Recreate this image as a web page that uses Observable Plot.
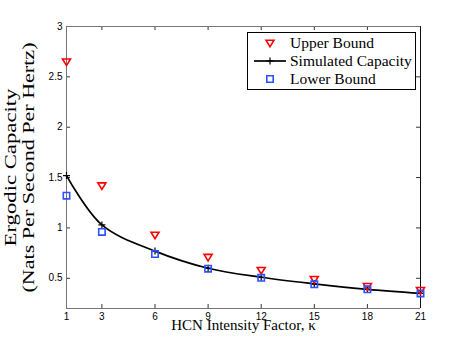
<!DOCTYPE html>
<html><head><meta charset="utf-8">
<script src="https://cdn.jsdelivr.net/npm/d3@7"></script>
<script src="https://cdn.jsdelivr.net/npm/@observablehq/plot@0.6"></script>
<style>
body{margin:0;background:#fff}
#wrap{position:relative;width:464px;height:347px}
#legend{position:absolute;left:247px;top:32px}
</style>
</head><body><div id="wrap"></div>
<script>
const kappa = [1, 3, 6, 9, 12, 15, 18, 21];
const upperBound = [2.65, 1.42, 0.93, 0.71, 0.58, 0.49, 0.42, 0.38];
const simulated = [1.52, 1.03, 0.77, 0.60, 0.51, 0.445, 0.39, 0.35];
const lowerBound = [1.32, 0.96, 0.74, 0.595, 0.505, 0.44, 0.39, 0.35];
const xTicks = [1, 3, 6, 9, 12, 15, 18, 21];
const yTicks = [0.5, 1, 1.5, 2, 2.5, 3];
const seriesNames = ["Upper Bound", "Simulated Capacity", "Lower Bound"];
const xLabel = "HCN Intensity Factor, \u03ba";
const yLabel1 = "Ergodic Capacity";
const yLabel2 = "(Nats Per Second Per Hertz)";

const W = 464, H = 347;
const mL = 66, mR = 44, mT = 26, mB = 39;
const pw = W - mL - mR, ph = H - mT - mB;

const up = kappa.map((k, i) => ({k, v: upperBound[i]}));
const sim = kappa.map((k, i) => ({k, v: simulated[i]}));
const lo = kappa.map((k, i) => ({k, v: lowerBound[i]}));

const triDown = {draw(c, size) { const s = Math.sqrt(size / Math.PI);
  c.moveTo(-s, -s * 0.7); c.lineTo(s, -s * 0.7); c.lineTo(0, s * 0.95); c.closePath(); }};
const sq = {draw(c, size) { const s = Math.sqrt(size / Math.PI) * 0.8;
  c.moveTo(-s, -s); c.lineTo(s, -s); c.lineTo(s, s); c.lineTo(-s, s); c.closePath(); }};
const plus = {draw(c, size) { const s = Math.sqrt(size / Math.PI);
  c.moveTo(-s, 0); c.lineTo(s, 0); c.moveTo(0, -s); c.lineTo(0, s); }};

const serif = "'Liberation Serif', 'Times New Roman', serif";
const RED = "#ff0000", BLUE = "#2a52ff";

const chart = Plot.plot({
  width: W, height: H,
  marginLeft: mL, marginRight: mR, marginTop: mT, marginBottom: mB,
  style: {fontFamily: "'Liberation Sans', Arial, sans-serif", fontSize: "10px", background: "#fff", color: "#000"},
  x: {domain: [1, 21]},
  y: {domain: [0.2, 3]},
  marks: [
    Plot.tickX(xTicks, {x: d => d, insetTop: ph - 4, stroke: "#333"}),
    Plot.tickX(xTicks, {x: d => d, insetBottom: ph - 4, stroke: "#333"}),
    Plot.tickY(yTicks, {y: d => d, insetRight: pw - 4, stroke: "#333"}),
    Plot.tickY(yTicks, {y: d => d, insetLeft: pw - 4, stroke: "#333"}),
    Plot.ruleY([0.2], {stroke: "#777"}),
    Plot.ruleY([3], {stroke: "#777"}),
    Plot.ruleX([1], {stroke: "#777"}),
    Plot.ruleX([21], {stroke: "#111"}),
    Plot.axisX({ticks: xTicks, tickSize: 0, tickPadding: 4, tickFormat: d => String(d), label: null}),
    Plot.axisY({ticks: yTicks, tickSize: 0, tickPadding: 4, tickFormat: d => String(d), label: null}),
    Plot.line(sim, {x: "k", y: "v", stroke: "#000", strokeWidth: 1.7, curve: "catmull-rom"}),
    Plot.dot(sim, {x: "k", y: "v", symbol: plus, r: 3.5, stroke: "#000", strokeWidth: 1.2}),
    Plot.dot(up, {x: "k", y: "v", symbol: triDown, r: 4, stroke: RED, strokeWidth: 1.6}),
    Plot.dot(lo, {x: "k", y: "v", symbol: sq, r: 4, stroke: BLUE, strokeWidth: 1.6}),
    Plot.text([xLabel], {frameAnchor: "bottom", dy: 21, fontFamily: serif, fontSize: 15}),
    Plot.text([yLabel1], {frameAnchor: "left", textAnchor: "middle", dx: -56, rotate: -90, fontFamily: serif, fontSize: 17}),
    Plot.text([yLabel2], {frameAnchor: "left", textAnchor: "middle", dx: -38, rotate: -90, fontFamily: serif, fontSize: 17})
  ]
});
const wrap = document.getElementById("wrap");
wrap.appendChild(chart);
// the reference's rotated labels are stretched along their length
d3.select(chart).selectAll("text").each(function() {
  const t = this.textContent;
  if (t === yLabel1) d3.select(this).attr("textLength", 158).attr("lengthAdjust", "spacingAndGlyphs");
  if (t === yLabel2) d3.select(this).attr("textLength", 250).attr("lengthAdjust", "spacingAndGlyphs");
});

const lw = 168, lh = 57;
const lg = d3.select(wrap).append("svg").attr("id", "legend").attr("width", lw + 1).attr("height", lh + 1);
lg.append("rect").attr("x", 0.5).attr("y", 0.5).attr("width", lw).attr("height", lh)
  .attr("fill", "#fff").attr("stroke", "#000");
const rows = [
  {name: seriesNames[0], sym: triDown, color: RED, line: false},
  {name: seriesNames[1], sym: plus, color: "#000", line: true},
  {name: seriesNames[2], sym: sq, color: BLUE, line: false}
];
rows.forEach((r, i) => {
  const cy = 11 + i * 18;
  const g = lg.append("g");
  if (r.line) g.append("line").attr("x1", 7).attr("x2", 39).attr("y1", cy).attr("y2", cy)
    .attr("stroke", "#000").attr("stroke-width", 1.7);
  const size = Math.PI * (r.line ? 3.5 : 4) ** 2;
  g.append("path").attr("transform", `translate(23,${cy})`).attr("d", d3.symbol(r.sym, size)())
    .attr("fill", "none").attr("stroke", r.color).attr("stroke-width", r.line ? 1.2 : 1.6);
  g.append("text").attr("x", 43).attr("y", cy).attr("dy", "0.35em")
    .attr("font-family", serif).attr("font-size", 15.5).text(r.name);
});
</script>
</body></html>
